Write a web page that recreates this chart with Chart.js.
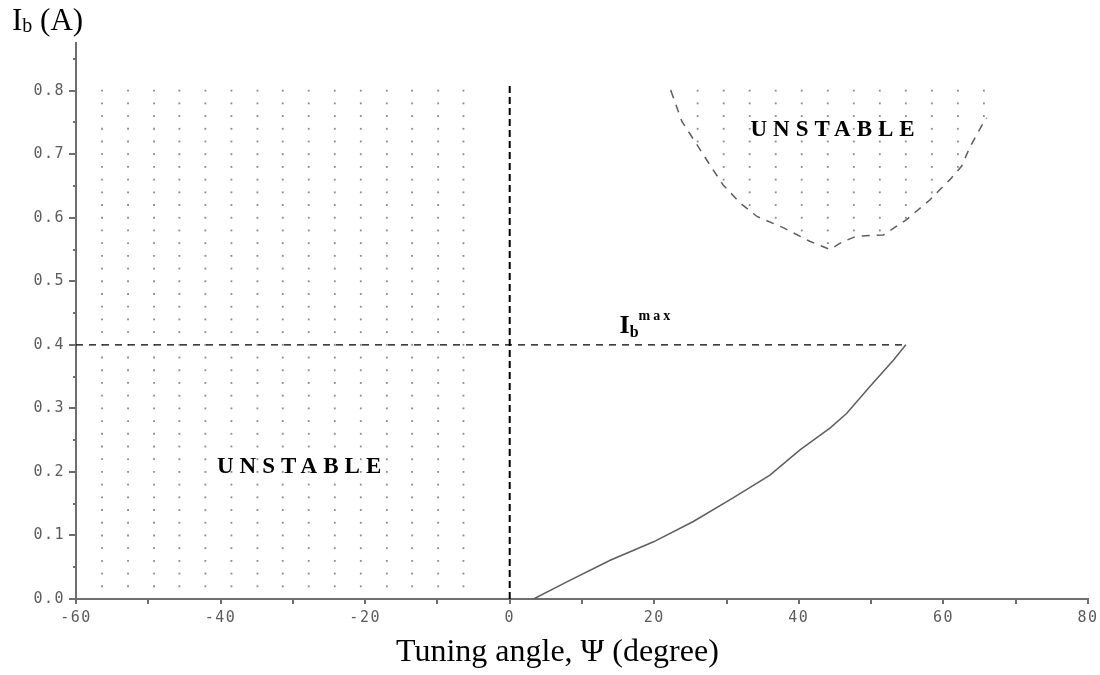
<!DOCTYPE html>
<html>
<head>
<meta charset="utf-8">
<script src="https://cdn.jsdelivr.net/npm/chart.js@4.4.1/dist/chart.umd.min.js"></script>
<style>
  html, body { margin: 0; padding: 0; background: #fff; }
  #wrap { width: 1100px; height: 675px; position: relative; }
</style>
</head>
<body>
<div id="wrap"><canvas id="stabilityChart"></canvas></div>
<script>
// stability limit (solid), tuning angle in degrees vs beam current in A
let stableAngle = [3.3, 7.9, 13.9, 19.9, 25.4, 30.9, 36.0, 40.2, 44.3, 46.6, 49.8, 53.1, 54.8];
let stableCurrent = [0.0, 0.027, 0.061, 0.090, 0.122, 0.159, 0.195, 0.235, 0.269, 0.292, 0.334, 0.376, 0.400];

// dashed edge of the upper unstable pocket
let pocketAngle = [22.3, 23.8, 25.9, 27.7, 29.5, 31.9, 34.2, 37.9, 41.5, 44.3, 46.0, 48.0, 51.7, 54.9, 58.1, 60.9, 62.5, 63.7, 65.5, 66.0];
let pocketCurrent = [0.800, 0.752, 0.715, 0.683, 0.652, 0.623, 0.602, 0.584, 0.563, 0.550, 0.562, 0.571, 0.573, 0.597, 0.628, 0.660, 0.681, 0.712, 0.749, 0.757];

// reference lines
let zeroLineAngle = [0, 0];
let zeroLineCurrent = [0, 0.813];
let ibMaxAngle = [-60, 54.9];
let ibMaxCurrent = [0.4, 0.4];

// dotted hatching of the unstable regions
let leftDotAngles = [-56.4, -52.8, -49.2, -45.7, -42.1, -38.5, -34.9, -31.4, -27.8, -24.2, -20.6, -17.0, -13.5, -9.9, -6.4];
let leftDotCurrents = [0.02, 0.04, 0.06, 0.08, 0.10, 0.12, 0.14, 0.16, 0.18, 0.20,
                       0.22, 0.24, 0.26, 0.28, 0.30, 0.32, 0.34, 0.36, 0.38, 0.40,
                       0.42, 0.44, 0.46, 0.48, 0.50, 0.52, 0.54, 0.56, 0.58, 0.60,
                       0.62, 0.64, 0.66, 0.68, 0.70, 0.72, 0.74, 0.76, 0.78, 0.80];
let rightDotAngles = [22.3, 26.0, 29.6, 33.2, 36.8, 40.4, 44.0, 47.6, 51.2, 54.8, 58.4, 62.0, 65.6];
let rightDotCurrents = [0.56, 0.58, 0.60, 0.62, 0.64, 0.66, 0.68, 0.70, 0.72, 0.74, 0.76, 0.78, 0.80];

// axis ticks
let xMajorTicks = [-60, -40, -20, 0, 20, 40, 60, 80];
let xMinorTicks = [-50, -30, -10, 10, 30, 50, 70];
let xTickLabels = ['-60', '-40', '-20', '0', '20', '40', '60', '80'];
let yMajorTicks = [0.0, 0.1, 0.2, 0.3, 0.4, 0.5, 0.6, 0.7, 0.8];
let yMinorTicks = [0.05, 0.15, 0.25, 0.35, 0.45, 0.55, 0.65, 0.75, 0.85];
let yTickLabels = ['0.0', '0.1', '0.2', '0.3', '0.4', '0.5', '0.6', '0.7', '0.8'];

function pairs(xs, ys) {
	return xs.map((x, i) => ({x: x, y: ys[i]}));
}

// lower edge of the pocket at a given angle
function pocketEdge(angle) {
	for (let i = 0; i < pocketAngle.length - 1; i++) {
		let a0 = pocketAngle[i], a1 = pocketAngle[i + 1];
		if (angle >= a0 && angle <= a1) {
			let t = (angle - a0) / (a1 - a0);
			return pocketCurrent[i] + t * (pocketCurrent[i + 1] - pocketCurrent[i]);
		}
	}
	return Infinity;
}

let leftDots = [];
leftDotCurrents.forEach((y) => {
	leftDotAngles.forEach((x) => leftDots.push({x: x, y: y}));
});
let rightDots = [];
rightDotCurrents.forEach((y) => {
	rightDotAngles.forEach((x) => {
		if (y >= pocketEdge(x) - 0.004) rightDots.push({x: x, y: y});
	});
});

function buildTicks(major, minor) {
	return function (scale) {
		let all = major.concat(minor).sort((a, b) => a - b);
		scale.ticks = all.map((v) => ({value: v}));
	};
}

function labelFor(major, labels) {
	return function (value) {
		let i = major.findIndex((m) => Math.abs(m - value) < 1e-6);
		return i >= 0 ? labels[i] : '';
	};
}

// short tick marks, major ones longer on the y axis
const tickMarks = {
	id: 'tickMarks',
	beforeDraw(chart) {
		chart.ctx.letterSpacing = '1.5px';
	},
	beforeDatasetsDraw(chart) {
		chart.ctx.letterSpacing = '0px';
	},
	afterDraw(chart) {
		let ctx = chart.ctx;
		let xs = chart.scales.x, ys = chart.scales.y;
		ctx.save();
		ctx.strokeStyle = '#6f6f6f';
		ctx.lineWidth = 2;
		ctx.beginPath();
		xs.ticks.forEach((t) => {
			let px = Math.round(xs.getPixelForValue(t.value));
			ctx.moveTo(px, ys.bottom);
			ctx.lineTo(px, ys.bottom + 5);
		});
		ys.ticks.forEach((t) => {
			let py = Math.round(ys.getPixelForValue(t.value));
			let isMajor = yMajorTicks.some((m) => Math.abs(m - t.value) < 1e-6);
			ctx.moveTo(xs.left, py);
			ctx.lineTo(xs.left - (isMajor ? 7 : 3), py);
		});
		ctx.stroke();
		ctx.restore();
	}
};

// draws a run of text pieces (sub/superscripts) one after the other
function drawPieces(ctx, pieces, x, y) {
	let cx = x;
	pieces.forEach((p) => {
		ctx.font = p.font;
		ctx.letterSpacing = (p.spacing || 0) + 'px';
		ctx.fillText(p.text, cx, y + (p.dy || 0));
		cx += ctx.measureText(p.text).width;
	});
	ctx.letterSpacing = '0px';
}

const SERIF = '"Liberation Serif", "Times New Roman", serif';

const annotations = [
	{x: -40.5, y: 0.198, pieces: [{text: 'UNSTABLE', font: 'bold 23px ' + SERIF, spacing: 6}]},
	{x: 33.3, y: 0.728, pieces: [{text: 'UNSTABLE', font: 'bold 23px ' + SERIF, spacing: 6}]},
	{x: 15.2, y: 0.419, pieces: [
		{text: 'I', font: 'bold 26px ' + SERIF},
		{text: 'b', font: 'bold 16px ' + SERIF, dy: 4},
		{text: 'max', font: 'bold 14px ' + SERIF, dy: -13, spacing: 3}
	]}
];

const textLayer = {
	id: 'textLayer',
	afterDraw(chart) {
		let ctx = chart.ctx;
		let xs = chart.scales.x, ys = chart.scales.y;
		ctx.save();
		ctx.fillStyle = '#000';
		ctx.textBaseline = 'alphabetic';
		ctx.textAlign = 'left';
		annotations.forEach((a) => {
			drawPieces(ctx, a.pieces, xs.getPixelForValue(a.x), ys.getPixelForValue(a.y));
		});
		// y axis title, top left
		drawPieces(ctx, [
			{text: 'I', font: '31px ' + SERIF},
			{text: 'b', font: '20px ' + SERIF, dy: 2},
			{text: ' (A)', font: '31px ' + SERIF}
		], 12, 30);
		// x axis title
		drawPieces(ctx, [{text: 'Tuning angle, \u03A8 (degree)', font: '32px ' + SERIF}], 396, 661);
		ctx.restore();
	}
};

let tickFont = {family: '"DejaVu Sans Mono", monospace', size: 15};

let stabilityChart = new Chart(document.getElementById('stabilityChart').getContext('2d'), {
	type: 'scatter',
	data: {
		datasets: [
			{
				label: 'Stability limit',
				data: pairs(stableAngle, stableCurrent),
				showLine: true,
				borderColor: '#5e5e5e',
				borderWidth: 1.5,
				pointRadius: 0,
				order: 1
			},
			{
				label: 'Unstable pocket edge',
				data: pairs(pocketAngle, pocketCurrent),
				showLine: true,
				borderColor: '#5e5e5e',
				borderWidth: 1.5,
				borderDash: [8, 7],
				pointRadius: 0,
				order: 1
			},
			{
				label: 'Zero tuning',
				data: pairs(zeroLineAngle, zeroLineCurrent),
				showLine: true,
				borderColor: '#000',
				borderWidth: 2,
				borderDash: [7, 4],
				pointRadius: 0,
				order: 0
			},
			{
				label: 'Ib max',
				data: pairs(ibMaxAngle, ibMaxCurrent),
				showLine: true,
				borderColor: '#000',
				borderWidth: 1.2,
				borderDash: [7, 6],
				pointRadius: 0,
				order: 0
			},
			{
				label: 'Unstable (left)',
				data: leftDots,
				pointStyle: 'rect',
				pointRadius: 1.3,
				pointBorderWidth: 0,
				pointBackgroundColor: '#8c8c8c',
				order: 5
			},
			{
				label: 'Unstable (upper)',
				data: rightDots,
				pointStyle: 'rect',
				pointRadius: 1.3,
				pointBorderWidth: 0,
				pointBackgroundColor: '#8c8c8c',
				order: 5
			}
		]
	},
	options: {
		responsive: true,
		maintainAspectRatio: false,
		animation: false,
		layout: {padding: {top: 43, right: 12, left: 0, bottom: 0}},
		plugins: {
			legend: {display: false},
			tooltip: {enabled: false}
		},
		scales: {
			x: {
				type: 'linear',
				min: -60,
				max: 80,
				afterBuildTicks: buildTicks(xMajorTicks, xMinorTicks),
				afterFit: (scale) => {
					scale.height = 76;
					scale.paddingLeft = 0;
					scale.paddingRight = 0;
				},
				grid: {display: false, drawTicks: false},
				border: {display: true, color: '#6f6f6f', width: 2},
				ticks: {
					padding: 10,
					maxRotation: 0,
					autoSkip: false,
					font: tickFont,
					color: '#5c5c5c',
					callback: labelFor(xMajorTicks, xTickLabels)
				}
			},
			y: {
				type: 'linear',
				min: 0,
				max: 0.875,
				afterBuildTicks: buildTicks(yMajorTicks, yMinorTicks),
				afterFit: (scale) => {
					scale.width = 76;
					scale.paddingTop = 0;
					scale.paddingBottom = 0;
				},
				grid: {display: false, drawTicks: false},
				border: {display: true, color: '#6f6f6f', width: 2},
				ticks: {
					padding: 11,
					autoSkip: false,
					font: tickFont,
					color: '#5c5c5c',
					callback: labelFor(yMajorTicks, yTickLabels)
				}
			}
		}
	},
	plugins: [tickMarks, textLayer]
});
</script>
</body>
</html>
